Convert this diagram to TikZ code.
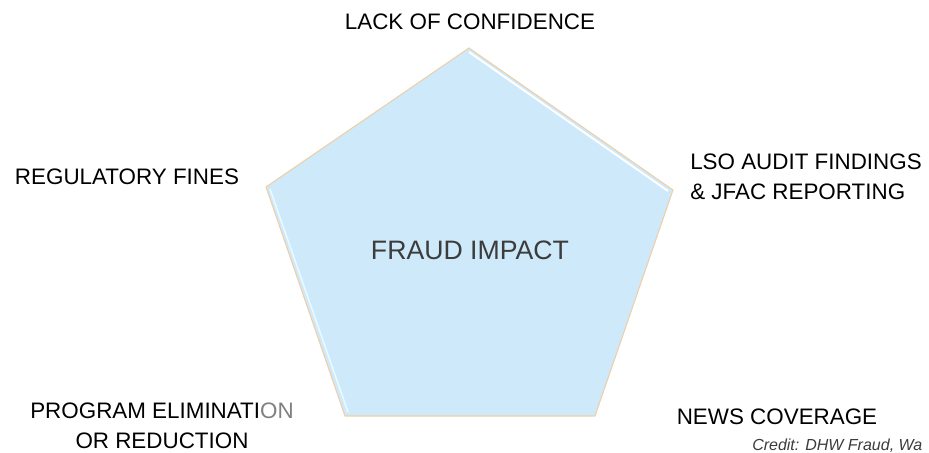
\documentclass[tikz,border=0pt]{standalone}
\usepackage{fontspec}
\setmainfont{Liberation Sans}
\usetikzlibrary{calc}
\definecolor{pentfill}{HTML}{CDE9FA}
\definecolor{pentedge}{HTML}{F0CFA8}
\definecolor{labelgray}{HTML}{3C3C3C}
\begin{document}
\begin{tikzpicture}[x=0.75pt,y=-0.75pt,
  lbl/.style={font=\fontsize{16.8}{22.5}\selectfont, text=black, inner sep=0pt, align=center},
  ctr/.style={font=\fontsize{20}{24}\selectfont, text=labelgray, inner sep=0pt}]
\useasboundingbox (0,0) rectangle (929,453);
% pentagon
\coordinate (pT) at (469,48);
\coordinate (pR) at (673,190);
\coordinate (pBR) at (595,416);
\coordinate (pBL) at (345,416);
\coordinate (pL) at (266,187);
\fill[pentfill] (pT) -- (pR) -- (pBR) -- (pBL) -- (pL) -- cycle;
\draw[white, line width=1.5pt] ($(pT)+(0,4)$) -- ($(pR)+(-5,1)$);
\draw[white!60!cyan!20, line width=1.2pt] ($(pL)+(4,2)$) -- ($(pBL)+(3,-4)$);
\draw[pentedge, line width=0.8pt, line join=miter] (pT) -- (pR) -- (pBR) -- (pBL) -- (pL) -- cycle;
\node[ctr] (center) at (470,250) {FRAUD IMPACT};
\node[lbl] (lack) at (470,22) {LACK OF CONFIDENCE};
\node[lbl] (reg) at (127,177) {REGULATORY FINES};
\node[lbl, align=left, anchor=west] (lso) at (690,177) {LSO AUDIT FINDINGS\\\& JFAC REPORTING};
\node[lbl] (prog) at (162,426) {PROGRAM ELIMINATI\textcolor{gray}{ON}\\OR REDUCTION};
\node[lbl] (news) at (777,417) {NEWS COVERAGE};
\node[font=\fontsize{12}{14}\selectfont\itshape, text=labelgray, anchor=base west, inner sep=0pt] (credit) at (752,450) {Credit: DHW Fraud, Wa};
\end{tikzpicture}
\end{document}
